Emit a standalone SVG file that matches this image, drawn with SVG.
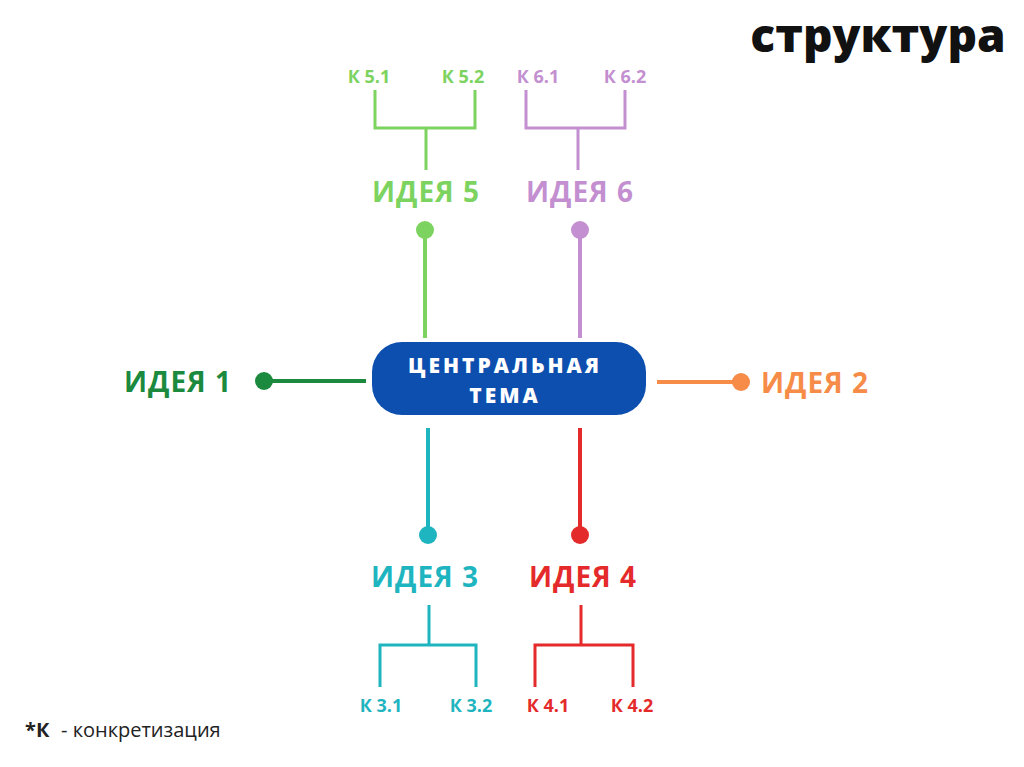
<svg xmlns="http://www.w3.org/2000/svg" width="1024" height="767" viewBox="0 0 1024 767">
<style>
.idea{font-family:"Open Sans","Liberation Sans",sans-serif;font-weight:700;font-size:28px;letter-spacing:1px;text-anchor:middle}
.k{font-family:"Open Sans","Liberation Sans",sans-serif;font-weight:700;font-size:18px;text-anchor:middle}
.ln{fill:none;stroke-width:4;stroke-linecap:butt}
.br{fill:none;stroke-width:3}
.ct{font-family:"Open Sans","Liberation Sans",sans-serif;font-weight:800;font-size:21px;letter-spacing:3px;text-anchor:middle;fill:#fff}
</style>
<rect width="1024" height="767" fill="#ffffff"/>
<text x="878" y="52" font-family="'Open Sans','Liberation Sans',sans-serif" font-weight="800" font-size="46" text-anchor="middle" fill="#111">структура</text>
<g id="connectors">
<line class="ln" x1="264" y1="381" x2="366" y2="381" stroke="#1b8a3e"/>
<circle cx="264" cy="381" r="9" fill="#1b8a3e"/>
<line class="ln" x1="657" y1="382" x2="741" y2="382" stroke="#f68c48"/>
<circle cx="741" cy="382" r="9" fill="#f68c48"/>
<line class="ln" x1="425" y1="230" x2="425" y2="338" stroke="#7dd35f"/>
<circle cx="425" cy="230" r="9" fill="#7dd35f"/>
<line class="ln" x1="580" y1="230" x2="580" y2="338" stroke="#c38fd0"/>
<circle cx="580" cy="230" r="9" fill="#c38fd0"/>
<line class="ln" x1="428" y1="428" x2="428" y2="535" stroke="#1fb5c0"/>
<circle cx="428" cy="535" r="9" fill="#1fb5c0"/>
<line class="ln" x1="580" y1="428" x2="580" y2="535" stroke="#e42a2a"/>
<circle cx="580" cy="535" r="9" fill="#e42a2a"/>
<path class="br" d="M375 90V128H475V90M426 128V170" stroke="#7dd35f"/>
<path class="br" d="M526 90V128H625V90M578 128V170" stroke="#c38fd0"/>
<path class="br" d="M380 687V645H476V687M429 645V605" stroke="#1fb5c0"/>
<path class="br" d="M535 687V645H633V687M581 645V605" stroke="#e42a2a"/>
</g>
<g id="central">
<rect x="372" y="342" width="274" height="73" rx="30" fill="#0d4fae"/>
<text class="ct" x="505" y="373">ЦЕНТРАЛЬНАЯ</text>
<text class="ct" x="505" y="403">ТЕМА</text>
</g>
<g id="idea1"><text class="idea" x="178" y="392" fill="#1b8a3e">ИДЕЯ 1</text></g>
<g id="idea2"><text class="idea" x="815" y="393" fill="#f68c48">ИДЕЯ 2</text></g>
<g id="idea5"><text class="idea" x="426" y="202" fill="#7dd35f">ИДЕЯ 5</text>
<text class="k" x="369" y="83" fill="#7dd35f">К 5.1</text><text class="k" x="463" y="83" fill="#7dd35f">К 5.2</text></g>
<g id="idea6"><text class="idea" x="580" y="202" fill="#c38fd0">ИДЕЯ 6</text>
<text class="k" x="538" y="83" fill="#c38fd0">К 6.1</text><text class="k" x="625" y="83" fill="#c38fd0">К 6.2</text></g>
<g id="idea3"><text class="idea" x="425" y="587" fill="#1fb5c0">ИДЕЯ 3</text>
<text class="k" x="381" y="712" fill="#1fb5c0">К 3.1</text><text class="k" x="471" y="712" fill="#1fb5c0">К 3.2</text></g>
<g id="idea4"><text class="idea" x="583" y="587" fill="#e42a2a">ИДЕЯ 4</text>
<text class="k" x="548" y="712" fill="#e42a2a">К 4.1</text><text class="k" x="632" y="712" fill="#e42a2a">К 4.2</text></g>
<g id="note"><text x="25" y="737" font-family="'Open Sans','Liberation Sans',sans-serif" font-size="20" fill="#222"><tspan font-weight="700">*К</tspan><tspan x="61">- конкретизация</tspan></text></g>
</svg>
